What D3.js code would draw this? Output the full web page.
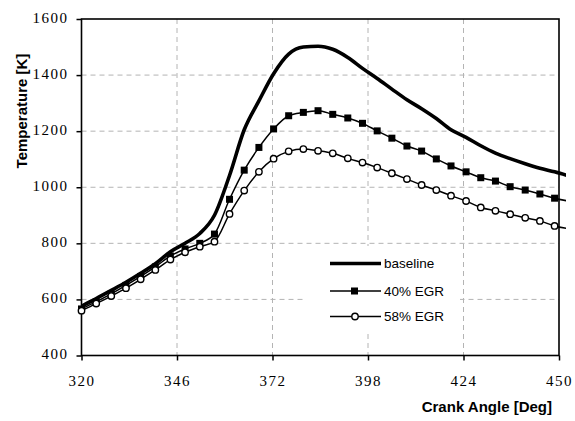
<!DOCTYPE html>
<html>
<head>
<meta charset="utf-8">
<script src="https://cdn.jsdelivr.net/npm/d3@7"></script>
<style>
  body { margin: 0; background: #fff; }
  svg { display: block; }
</style>
</head>
<body>
<svg id="chart"></svg>
<script>
// crank angle of each sample [deg]
var angles = [320.0, 324.0, 328.1, 332.1, 336.1, 340.1, 344.2, 348.2, 352.2, 356.2,
              360.3, 364.3, 368.3, 372.3, 376.4, 380.4, 384.4, 388.4, 392.5, 396.5,
              400.5, 404.5, 408.6, 412.6, 416.6, 420.6, 424.7, 428.7, 432.7, 436.7,
              440.8, 444.8, 448.8, 452.8];

// temperature [K]
var baseline = [576, 603, 632, 661, 693, 727, 770, 800, 835, 900,
                1042, 1205, 1308, 1405, 1475, 1500, 1503, 1492, 1463, 1424,
                1388, 1350, 1312, 1280, 1245, 1205, 1178, 1148, 1122, 1102,
                1084, 1068, 1055, 1040];
var egr40 = [566, 592, 620, 650, 682, 716, 755, 780, 800, 833,
             957, 1061, 1142, 1208, 1255, 1267, 1273, 1260, 1247, 1228,
             1201, 1175, 1147, 1129, 1101, 1076, 1055, 1034, 1022, 1002,
             990, 976, 961, 950];
var egr58 = [560, 585, 612, 640, 672, 705, 742, 768, 788, 806,
             905, 988, 1055, 1102, 1128, 1136, 1130, 1121, 1103, 1088,
             1070, 1050, 1029, 1008, 990, 970, 951, 928, 916, 904,
             891, 880, 862, 852];

var seriesNames = ["baseline", "40% EGR", "58% EGR"];
var xTicks = [320, 346, 372, 398, 424, 450];
var yTicks = [400, 600, 800, 1000, 1200, 1400, 1600];

var width = 575, height = 421;
var pLeft = 81.5, pRight = 559, pTop = 19, pBottom = 355.5;

var svg = d3.select("#chart")
    .attr("width", width)
    .attr("height", height);

svg.append("rect").attr("width", width).attr("height", height).attr("fill", "#fff");

var x = d3.scaleLinear().domain([320, 450]).range([pLeft, pRight]);
var y = d3.scaleLinear().domain([400, 1600]).range([pBottom, pTop]);

// grid
svg.append("g").selectAll("line")
    .data(yTicks.slice(1, -1))
  .enter().append("line")
    .attr("x1", pLeft).attr("x2", pRight)
    .attr("y1", function(d) { return y(d); })
    .attr("y2", function(d) { return y(d); })
    .attr("stroke", "#b4b4b4")
    .attr("stroke-dasharray", "5,4");

svg.append("g").selectAll("line")
    .data(xTicks.slice(1, -1))
  .enter().append("line")
    .attr("y1", pTop).attr("y2", pBottom)
    .attr("x1", function(d) { return x(d); })
    .attr("x2", function(d) { return x(d); })
    .attr("stroke", "#b4b4b4")
    .attr("stroke-dasharray", "5,4");

// legend backing hides the grid behind it
svg.append("rect")
    .attr("x", 306).attr("y", 246)
    .attr("width", 154).attr("height", 84)
    .attr("fill", "#fff");

// axes
var xAxis = d3.axisBottom(x).tickValues(xTicks).tickSize(5).tickSizeOuter(0)
    .tickFormat(d3.format("d"));
var yAxis = d3.axisLeft(y).tickValues(yTicks).tickSize(5).tickSizeOuter(0)
    .tickFormat(d3.format("d"));

var gx = svg.append("g")
    .attr("transform", "translate(0," + pBottom + ")")
    .call(xAxis);
gx.select(".domain").remove();
gx.selectAll("line").attr("stroke", "#000").attr("stroke-width", 1.5);
gx.selectAll("text")
    .attr("y", 20)
    .attr("dy", "0.71em")
    .style("font-family", "'Liberation Serif', 'Times New Roman', serif")
    .style("font-size", "15px")
    .style("letter-spacing", "1.5px")
    .attr("fill", "#000");

var gy = svg.append("g")
    .attr("transform", "translate(" + pLeft + ",0)")
    .call(yAxis);
gy.select(".domain").remove();
gy.selectAll("line").attr("stroke", "#000").attr("stroke-width", 1.5);
gy.selectAll("text")
    .attr("x", -13)
    .attr("dy", "0.2em")
    .style("font-family", "'Liberation Serif', 'Times New Roman', serif")
    .style("font-size", "15px")
    .style("letter-spacing", "1.5px")
    .attr("fill", "#000");

// plot frame
svg.append("rect")
    .attr("x", pLeft).attr("y", pTop)
    .attr("width", pRight - pLeft).attr("height", pBottom - pTop)
    .attr("fill", "none")
    .attr("stroke", "#000")
    .attr("stroke-width", 1.6);

// data
svg.append("clipPath").attr("id", "clip")
  .append("rect")
    .attr("x", pLeft).attr("y", 0)
    .attr("width", 566 - pLeft).attr("height", pBottom);

var line = d3.line()
    .x(function(d) { return x(d[0]); })
    .y(function(d) { return y(d[1]); })
    .curve(d3.curveMonotoneX);

var series = [baseline, egr40, egr58].map(function(vals) {
    return vals.map(function(v, i) { return [angles[i], v]; });
});

var plot = svg.append("g").attr("clip-path", "url(#clip)");

plot.selectAll(".series")
    .data(series)
  .enter().append("path")
    .attr("class", "series")
    .attr("d", line)
    .attr("fill", "none")
    .attr("stroke", "#000")
    .attr("stroke-width", function(d, i) { return i == 0 ? 3.6 : 1.5; })
    .attr("stroke-linejoin", "round");

var inRange = function(d) { return d[0] <= 450; };

svg.append("g").selectAll("rect")
    .data(series[1].filter(inRange))
  .enter().append("rect")
    .attr("x", function(d) { return x(d[0]) - 3.5; })
    .attr("y", function(d) { return y(d[1]) - 3.5; })
    .attr("width", 7).attr("height", 7)
    .attr("fill", "#000");

svg.append("g").selectAll("circle")
    .data(series[2].filter(inRange))
  .enter().append("circle")
    .attr("cx", function(d) { return x(d[0]); })
    .attr("cy", function(d) { return y(d[1]); })
    .attr("r", 3.2)
    .attr("fill", "#fff")
    .attr("stroke", "#000")
    .attr("stroke-width", 1.4);

// legend
var legend = svg.append("g");
var rows = legend.selectAll("g")
    .data(seriesNames)
  .enter().append("g")
    .attr("transform", function(d, i) { return "translate(330," + [263.5, 291, 316.5][i] + ")"; });

rows.append("line")
    .attr("x1", 0).attr("x2", 51)
    .attr("stroke", "#000")
    .attr("stroke-width", function(d, i) { return i == 0 ? 3.6 : 1.5; });

rows.filter(function(d, i) { return i == 1; }).append("rect")
    .attr("x", 21).attr("y", -3.5).attr("width", 7).attr("height", 7)
    .attr("fill", "#000");

rows.filter(function(d, i) { return i == 2; }).append("circle")
    .attr("cx", 25).attr("r", 3.2)
    .attr("fill", "#fff").attr("stroke", "#000").attr("stroke-width", 1.4);

rows.append("text")
    .attr("x", 54)
    .attr("dy", "0.35em")
    .style("font-family", "'Liberation Sans', Arial, sans-serif")
    .style("font-size", "13.5px")
    .text(function(d) { return d; });

// axis titles
svg.append("text")
    .attr("x", 552)
    .attr("y", 412)
    .attr("text-anchor", "end")
    .style("font-family", "'Liberation Sans', Arial, sans-serif")
    .style("font-weight", "bold")
    .style("font-size", "15px")
    .text("Crank Angle [Deg]");

svg.append("text")
    .attr("transform", "translate(27,111) rotate(-90)")
    .attr("text-anchor", "middle")
    .style("font-family", "'Liberation Sans', Arial, sans-serif")
    .style("font-weight", "bold")
    .style("font-size", "15px")
    .text("Temperature [K]");
</script>
</body>
</html>
